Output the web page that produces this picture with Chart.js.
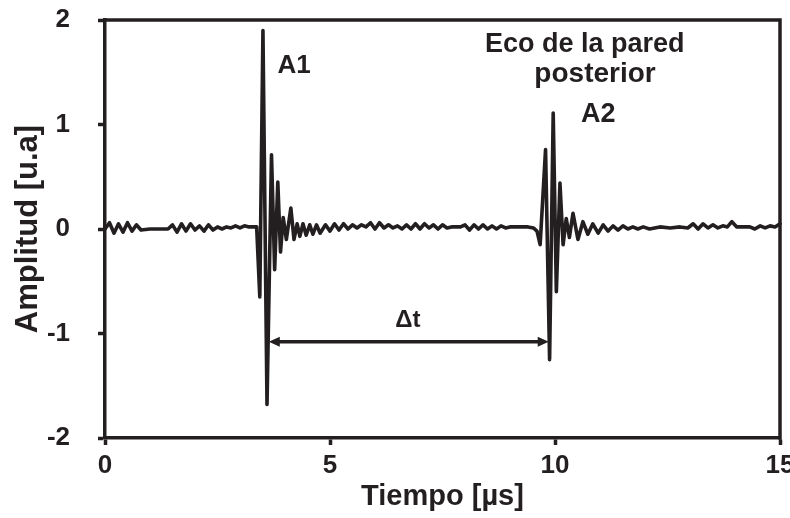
<!DOCTYPE html>
<html>
<head>
<meta charset="utf-8">
<script src="https://cdn.jsdelivr.net/npm/chart.js@4"></script>
<style>
  html, body { margin: 0; padding: 0; background: #fff; }
</style>
</head>
<body>
<canvas id="eco-chart" width="790" height="518"></canvas>
<script>
// Time axis (µs) and amplitude (u.a.), segment by segment
const tiempo = [
  // baseline noise before A1
  0.0, 0.1, 0.2, 0.3, 0.4, 0.5, 0.6, 0.7, 0.8, 1.0, 1.2, 1.4, 1.5, 1.6, 1.7, 1.8, 1.9, 2.0, 2.1, 2.2,
  2.3, 2.4, 2.5, 2.6, 2.7, 2.8, 2.9, 3.0, 3.1, 3.2, 3.3,
  // A1 echo
  3.37, 3.44, 3.51, 3.60, 3.70, 3.77, 3.84, 3.90, 3.96, 4.03, 4.13, 4.20, 4.27, 4.33, 4.40, 4.47, 4.55,
  4.62, 4.70, 4.78,
  // noise between echoes
  4.9, 5.0, 5.1, 5.2, 5.3, 5.4, 5.5, 5.6, 5.7, 5.8, 5.9, 6.0, 6.1, 6.2, 6.3, 6.4, 6.5, 6.6, 6.7, 6.8,
  6.9, 7.0, 7.1, 7.2, 7.3, 7.4, 7.5, 7.6, 7.7, 7.8, 7.9, 8.0, 8.1, 8.2, 8.3, 8.4, 8.5, 8.6, 8.7, 8.8,
  8.9, 9.0, 9.2, 9.4, 9.52,
  // A2 echo (back wall) and tail
  9.60, 9.67, 9.79, 9.88, 9.96, 10.03, 10.11, 10.18, 10.25, 10.32, 10.40, 10.51, 10.62, 10.73, 10.84,
  10.96, 11.07, 11.18, 11.29, 11.40, 11.51, 11.62, 11.73, 11.84, 11.96, 12.10, 12.33, 12.56, 12.78,
  12.95, 13.07, 13.18, 13.29, 13.40, 13.51, 13.62, 13.73, 13.83, 13.93, 14.04, 14.20, 14.33, 14.44,
  14.56, 14.67, 14.78, 14.89, 15.0,
];

const amplitud = [
  0.00, 0.06, -0.04, 0.05, -0.03, 0.06, -0.02, 0.04, -0.01, 0.00, 0.00, 0.00, 0.04, -0.03, 0.05, -0.02,
  0.05, -0.01, 0.03, -0.02, 0.04, -0.01, 0.02, 0.00, 0.02, 0.01, 0.03, 0.01, 0.03, 0.02, 0.02,

  0.02, -0.65, 1.90, -1.68, 0.71, -0.39, 0.45, -0.22, 0.11, -0.10, 0.20, -0.10, 0.05, -0.07, 0.05, -0.06,
  0.04, -0.05, 0.04, -0.04,

  0.04, -0.02, 0.05, -0.01, 0.05, 0.00, 0.04, 0.01, 0.04, 0.02, 0.06, 0.00, 0.06, 0.01, 0.04, 0.01,
  0.03, 0.00, 0.04, 0.00, 0.05, 0.00, 0.05, 0.01, 0.04, 0.00, 0.04, 0.01, 0.02, 0.02, 0.02, 0.04,
  -0.01, 0.04, 0.00, 0.04, 0.00, 0.03, 0.00, 0.03, 0.01, 0.02, 0.02, 0.02, 0.01,

  -0.02, -0.15, 0.76, -1.25, 1.11, -0.60, 0.44, -0.15, 0.10, -0.08, 0.15, -0.10, 0.07, -0.05, 0.05,
  -0.04, 0.04, -0.02, 0.03, -0.01, 0.03, 0.00, 0.02, 0.00, 0.02, 0.00, 0.02, 0.01, 0.02, 0.01, 0.05,
  0.00, 0.05, 0.01, 0.04, 0.01, 0.03, 0.02, 0.07, 0.02, 0.02, 0.02, 0.00, 0.03, 0.01, 0.03, 0.02, 0.05,
];

const xTicks = [0, 5, 10, 15];
const yTicks = [-2, -1, 0, 1, 2];

// Labels placed in data coordinates (t in µs, v in u.a.), baseline-anchored
const etiquetas = [
  { text: "A1", t: 4.2, v: 1.49, size: 26 },
  { text: "Eco de la pared", t: 10.66, v: 1.69, size: 27 },
  { text: "posterior", t: 10.89, v: 1.41, size: 28 },
  { text: "A2", t: 10.96, v: 1.02, size: 27 },
  { text: "Δt", t: 6.73, v: -0.94, size: 24 },
];
// Δt arrow between the two echoes
const flecha = { t1: 3.64, t2: 9.86, v: -1.08 };

const ink = "#231f20";
const FONT = "'Liberation Sans', Arial, Helvetica, sans-serif";

const puntos = tiempo.map((t, i) => ({ x: t, y: amplitud[i] }));

const anotaciones = {
  id: "anotaciones",
  afterDatasetsDraw(chart) {
    const { ctx, chartArea: a } = chart;
    const sx = chart.scales.x;
    const sy = chart.scales.y;
    ctx.save();

    // top and right frame lines
    ctx.strokeStyle = ink;
    ctx.lineWidth = 3.5;
    ctx.lineCap = "square";
    ctx.beginPath();
    ctx.moveTo(a.left, a.top);
    ctx.lineTo(a.right, a.top);
    ctx.lineTo(a.right, a.bottom);
    ctx.stroke();

    ctx.fillStyle = ink;
    ctx.textAlign = "center";
    ctx.textBaseline = "alphabetic";
    etiquetas.forEach((e) => {
      ctx.font = `bold ${e.size}px ${FONT}`;
      ctx.fillText(e.text, sx.getPixelForValue(e.t), sy.getPixelForValue(e.v));
    });

    // double-headed arrow
    const x1 = sx.getPixelForValue(flecha.t1);
    const x2 = sx.getPixelForValue(flecha.t2);
    const yy = sy.getPixelForValue(flecha.v);
    const head = 11, half = 5;
    ctx.lineWidth = 3.5;
    ctx.lineCap = "butt";
    ctx.beginPath();
    ctx.moveTo(x1 + head - 1, yy);
    ctx.lineTo(x2 - head + 1, yy);
    ctx.stroke();
    ctx.beginPath();
    ctx.moveTo(x1, yy);
    ctx.lineTo(x1 + head, yy - half);
    ctx.lineTo(x1 + head, yy + half);
    ctx.closePath();
    ctx.moveTo(x2, yy);
    ctx.lineTo(x2 - head, yy - half);
    ctx.lineTo(x2 - head, yy + half);
    ctx.closePath();
    ctx.fill();

    ctx.restore();
  },
};

new Chart(document.getElementById("eco-chart"), {
  type: "line",
  data: {
    datasets: [
      {
        data: puntos,
        borderColor: ink,
        borderWidth: 3.6,
        pointRadius: 0,
        tension: 0,
        borderJoinStyle: "round",
        borderCapStyle: "round",
        clip: false,
      },
    ],
  },
  options: {
    responsive: false,
    animation: false,
    devicePixelRatio: 1,
    layout: { padding: { top: 20, right: 10, left: 0, bottom: 0 } },
    plugins: { legend: { display: false }, tooltip: { enabled: false } },
    scales: {
      x: {
        type: "linear",
        min: 0,
        max: 15,
        afterBuildTicks: (s) => { s.ticks = xTicks.map((v) => ({ value: v })); },
        ticks: { color: ink, font: { family: FONT, size: 26, weight: "bold" }, padding: 5, maxRotation: 0 },
        grid: { drawOnChartArea: false, drawTicks: true, tickLength: 7, tickWidth: 3.5, tickColor: ink },
        border: { color: ink, width: 3.5 },
        title: {
          display: true,
          text: "Tiempo [µs]",
          color: ink,
          font: { family: FONT, size: 29, weight: "bold", lineHeight: 1.2 },
          padding: { top: 0, bottom: 4 },
        },
        afterFit: (s) => { s.height = 80; s.paddingLeft = 0; s.paddingRight = 0; },
      },
      y: {
        type: "linear",
        min: -2,
        max: 2,
        afterBuildTicks: (s) => { s.ticks = yTicks.map((v) => ({ value: v })); },
        ticks: { color: ink, font: { family: FONT, size: 26, weight: "bold" }, padding: 28 },
        grid: { drawOnChartArea: false, drawTicks: true, tickLength: 7, tickWidth: 3.5, tickColor: ink },
        border: { color: ink, width: 3.5 },
        title: {
          display: true,
          text: "Amplitud [u.a]",
          color: ink,
          font: { family: FONT, size: 31, weight: "bold", lineHeight: 1.2 },
          padding: { top: 10, bottom: 0 },
        },
        afterFit: (s) => { s.width = 105; s.paddingTop = 0; s.paddingBottom = 0; },
      },
    },
  },
  plugins: [anotaciones],
});
</script>
</body>
</html>
